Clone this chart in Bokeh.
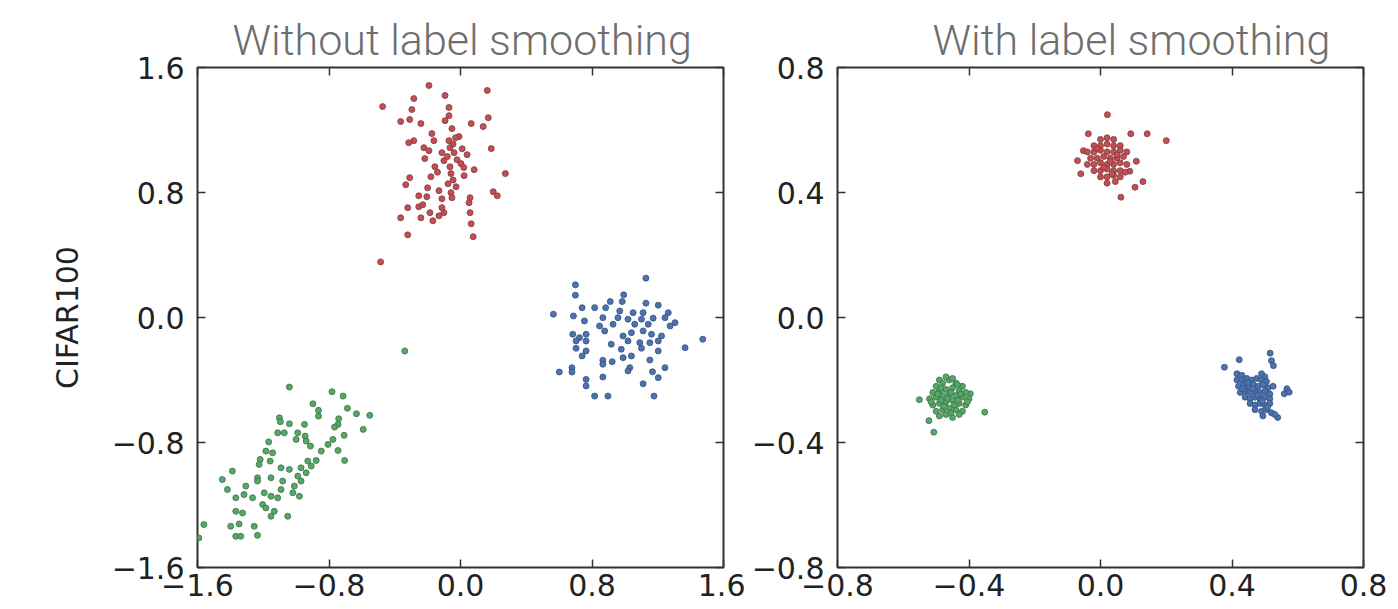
from bokeh.plotting import figure
from bokeh.layouts import row
from bokeh.models import LinearAxis, FixedTicker, Range1d
from bokeh.embed import file_html
from bokeh.resources import INLINE

# ---------------- data ----------------
titles = ["Without label smoothing", "With label smoothing"]
y_label = "CIFAR100"

left_ticks = [-1.6, -0.8, 0.0, 0.8, 1.6]
left_tick_labels = ["\u22121.6", "\u22120.8", "0.0", "0.8", "1.6"]
right_ticks = [-0.8, -0.4, 0.0, 0.4, 0.8]
right_tick_labels = ["\u22120.8", "\u22120.4", "0.0", "0.4", "0.8"]

# Without label smoothing
left_red = [
    (-0.192, 1.485), (0.163, 1.453), (-0.474, 1.350), (-0.284, 1.401), (-0.094, 1.421),
    (-0.296, 1.331), (-0.070, 1.344), (-0.364, 1.254), (-0.309, 1.267), (-0.241, 1.241),
    (-0.070, 1.292), (-0.094, 1.260), (0.065, 1.241), (0.138, 1.222), (0.169, 1.279),
    (-0.052, 1.209), (-0.174, 1.177), (-0.009, 1.158), (-0.315, 1.119), (-0.284, 1.132),
    (-0.162, 1.132), (-0.070, 1.132), (-0.064, 1.087), (-0.223, 1.087), (-0.192, 1.068),
    (-0.217, 1.017), (-0.113, 1.055), (-0.039, 1.055), (0.040, 1.042), (0.187, 1.081),
    (-0.101, 1.004), (-0.064, 0.965), (-0.021, 1.010), (0.003, 0.985), (-0.156, 0.965),
    (-0.058, 0.921), (0.022, 0.908), (0.083, 0.946), (0.273, 0.921), (-0.180, 0.901),
    (-0.309, 0.895), (-0.333, 0.850), (-0.076, 0.856), (-0.027, 0.837), (-0.131, 0.812),
    (-0.058, 0.799), (-0.254, 0.779), (-0.205, 0.773), (-0.113, 0.760), (-0.052, 0.767),
    (0.199, 0.805), (0.224, 0.779), (0.058, 0.767), (0.052, 0.735), (-0.321, 0.703),
    (-0.254, 0.709), (-0.229, 0.722), (-0.113, 0.703), (-0.186, 0.671), (-0.101, 0.671),
    (-0.131, 0.651), (-0.241, 0.638), (-0.168, 0.619), (-0.364, 0.638), (0.058, 0.671),
    (0.065, 0.600), (-0.321, 0.529), (0.077, 0.517), (-0.486, 0.356),
    (-0.045, 1.110), (-0.030, 1.150), (-0.080, 1.030), (0.010, 1.080), (-0.140, 0.930),
    (-0.045, 0.880), (0.020, 0.960), (-0.200, 0.830),
]
left_blue = [
    (1.128, 0.252), (0.699, 0.209), (0.699, 0.143), (0.565, 0.021), (0.740, 0.063),
    (0.816, 0.063), (0.911, 0.102), (0.993, 0.145), (0.984, 0.102), (1.128, 0.092),
    (1.203, 0.079), (0.687, 0.010), (0.754, -0.022), (0.883, 0.063), (0.969, 0.042),
    (1.050, 0.031), (1.111, 0.031), (1.264, 0.031), (0.866, -0.001), (0.958, -0.001),
    (1.019, -0.011), (1.101, -0.011), (1.172, -0.004), (1.244, -0.001), (1.305, -0.033),
    (0.846, -0.054), (0.928, -0.043), (1.060, -0.043), (1.142, -0.043), (1.275, -0.054),
    (0.683, -0.107), (0.724, -0.129), (0.764, -0.107), (0.877, -0.086), (0.989, -0.118),
    (1.040, -0.097), (1.111, -0.086), (1.162, -0.107), (1.223, -0.118), (0.703, -0.150),
    (0.764, -0.150), (0.917, -0.171), (1.019, -0.150), (1.091, -0.161), (1.152, -0.161),
    (1.203, -0.150), (1.474, -0.139), (1.366, -0.193), (0.703, -0.197), (0.764, -0.214),
    (0.978, -0.203), (1.101, -0.197), (1.203, -0.214), (0.740, -0.246), (0.989, -0.257),
    (1.040, -0.246), (0.866, -0.274), (0.923, -0.283), (1.152, -0.272), (0.601, -0.349),
    (0.678, -0.321), (0.678, -0.349), (1.030, -0.321), (0.866, -0.299), (1.019, -0.342),
    (1.168, -0.347), (1.244, -0.321), (0.866, -0.381), (0.764, -0.396), (0.764, -0.438),
    (1.111, -0.424), (1.203, -0.385), (0.816, -0.503), (0.897, -0.503), (1.177, -0.503),
]
left_green = [
    (-1.041, -0.445), (-0.782, -0.475), (-0.714, -0.503), (-0.898, -0.552), (-0.688, -0.581),
    (-0.864, -0.594), (-0.864, -0.631), (-0.633, -0.616), (-0.552, -0.626), (-0.741, -0.648),
    (-1.102, -0.642), (-1.096, -0.667), (-1.041, -0.680), (-0.949, -0.684), (-0.745, -0.684),
    (-0.766, -0.701), (-0.592, -0.716), (-1.112, -0.738), (-0.990, -0.738), (-1.072, -0.738),
    (-0.945, -0.759), (-0.708, -0.754), (-1.000, -0.780), (-0.939, -0.791), (-0.776, -0.780),
    (-1.167, -0.796), (-0.806, -0.812), (-0.913, -0.823), (-0.745, -0.851), (-1.184, -0.855),
    (-1.143, -0.866), (-0.847, -0.855), (-1.219, -0.908), (-1.158, -0.919), (-0.929, -0.919),
    (-0.878, -0.915), (-0.705, -0.915), (-1.225, -0.940), (-1.092, -0.962), (-1.041, -0.972),
    (-0.970, -0.962), (-0.908, -0.951), (-1.388, -0.983), (-1.449, -1.037), (-1.235, -1.026),
    (-1.153, -1.026), (-1.082, -1.047), (-0.990, -1.015), (-0.939, -0.994), (-1.418, -1.101),
    (-1.306, -1.079), (-1.235, -1.047), (-1.011, -1.079), (-0.970, -1.047), (-1.367, -1.154),
    (-1.317, -1.133), (-1.265, -1.154), (-1.194, -1.122), (-1.153, -1.144), (-1.092, -1.101),
    (-1.020, -1.122), (-0.980, -1.144), (-1.204, -1.197), (-1.112, -1.154), (-1.184, -1.219),
    (-1.133, -1.240), (-1.367, -1.240), (-1.326, -1.251), (-1.153, -1.272), (-1.051, -1.272),
    (-1.398, -1.336), (-1.347, -1.321), (-1.255, -1.336), (-1.367, -1.400), (-1.337, -1.400),
    (-1.235, -1.394), (-1.561, -1.325), (-1.592, -1.411), (-0.339, -0.214),
]

# With label smoothing
right_red = [
    (0.021, 0.649), (-0.037, 0.588), (0.092, 0.588), (0.142, 0.588), (0.200, 0.566),
    (0.109, 0.500), (0.089, 0.468), (0.129, 0.435), (0.105, 0.417), (0.062, 0.385),
    (-0.052, 0.534), (-0.070, 0.502), (-0.060, 0.460),
    (0.000, 0.570), (0.020, 0.575), (0.040, 0.570),
    (-0.020, 0.550), (0.000, 0.550), (0.020, 0.555), (0.040, 0.550), (0.060, 0.550),
    (-0.040, 0.530), (-0.020, 0.530), (0.000, 0.535), (0.020, 0.530), (0.040, 0.530),
    (0.060, 0.535), (0.080, 0.530),
    (-0.030, 0.510), (-0.010, 0.510), (0.010, 0.515), (0.030, 0.510), (0.050, 0.510),
    (0.070, 0.515),
    (-0.040, 0.490), (-0.020, 0.490), (0.000, 0.495), (0.020, 0.490), (0.040, 0.490),
    (0.060, 0.495), (0.080, 0.490),
    (-0.020, 0.470), (0.000, 0.470), (0.020, 0.475), (0.040, 0.470), (0.060, 0.470),
    (0.075, 0.465),
    (0.000, 0.450), (0.020, 0.450), (0.040, 0.455), (0.060, 0.450),
    (0.020, 0.430), (0.045, 0.435),
    (0.030, 0.500), (0.010, 0.480), (0.050, 0.520), (-0.010, 0.540), (0.035, 0.460),
]
right_blue = [
    (0.377, -0.159), (0.422, -0.135), (0.516, -0.114), (0.520, -0.138), (0.526, -0.154),
    (0.567, -0.228), (0.574, -0.239), (0.559, -0.244), (0.539, -0.320), (0.494, -0.315),
    (0.415, -0.180), (0.430, -0.185), (0.490, -0.180), (0.500, -0.190),
    (0.415, -0.200), (0.430, -0.200), (0.445, -0.195), (0.460, -0.200), (0.475, -0.195),
    (0.490, -0.200), (0.505, -0.205),
    (0.420, -0.220), (0.435, -0.215), (0.450, -0.220), (0.465, -0.215), (0.480, -0.220),
    (0.495, -0.215), (0.510, -0.225), (0.525, -0.220),
    (0.425, -0.240), (0.440, -0.235), (0.455, -0.240), (0.470, -0.235), (0.485, -0.240),
    (0.500, -0.235), (0.515, -0.245),
    (0.440, -0.255), (0.455, -0.260), (0.470, -0.255), (0.485, -0.260), (0.500, -0.255),
    (0.515, -0.260),
    (0.455, -0.275), (0.470, -0.280), (0.485, -0.275), (0.500, -0.280), (0.515, -0.275),
    (0.470, -0.295), (0.490, -0.300), (0.505, -0.295), (0.520, -0.305), (0.530, -0.310),
    (0.463, -0.228), (0.478, -0.248), (0.492, -0.268), (0.448, -0.208), (0.508, -0.288),
    (0.432, -0.228),
]
right_green = [
    (-0.551, -0.263), (-0.352, -0.303), (-0.507, -0.367), (-0.522, -0.330), (-0.396, -0.244),
    (-0.490, -0.200),
    (-0.500, -0.220), (-0.480, -0.210), (-0.460, -0.200), (-0.440, -0.210), (-0.420, -0.220),
    (-0.470, -0.190), (-0.450, -0.195),
    (-0.510, -0.240), (-0.490, -0.235), (-0.470, -0.230), (-0.450, -0.225), (-0.430, -0.235),
    (-0.410, -0.240),
    (-0.520, -0.260), (-0.500, -0.255), (-0.480, -0.250), (-0.460, -0.245), (-0.440, -0.250),
    (-0.420, -0.255), (-0.400, -0.260),
    (-0.510, -0.280), (-0.490, -0.275), (-0.470, -0.270), (-0.450, -0.265), (-0.430, -0.275),
    (-0.410, -0.280),
    (-0.500, -0.300), (-0.480, -0.295), (-0.460, -0.290), (-0.440, -0.295), (-0.420, -0.300),
    (-0.490, -0.315), (-0.470, -0.310), (-0.450, -0.320), (-0.430, -0.310),
    (-0.465, -0.260), (-0.455, -0.240), (-0.475, -0.285), (-0.435, -0.265), (-0.485, -0.265),
    (-0.445, -0.280), (-0.495, -0.245), (-0.425, -0.245), (-0.515, -0.270), (-0.405, -0.270),
    (-0.455, -0.305), (-0.485, -0.225), (-0.435, -0.215),
]

RED, BLUE, GREEN = "#C44E52", "#4C72B0", "#55A868"
RED_EDGE, BLUE_EDGE, GREEN_EDGE = "#7d3a3d", "#34507d", "#3b7049"

TICK_FONT = "DejaVu Sans"
FRAME_COLOR = "#333333"


def style_axis(ax, ticks, labels, standoff, show_labels=True):
    ax.ticker = FixedTicker(ticks=ticks)
    ax.major_label_overrides = {t: l for t, l in zip(ticks, labels)}
    ax.axis_line_color = None
    ax.major_tick_in = 8
    ax.major_tick_out = 0
    ax.major_tick_line_color = FRAME_COLOR
    ax.major_tick_line_width = 1.5
    ax.minor_tick_line_color = None
    ax.major_label_text_font = TICK_FONT
    ax.major_label_text_color = "#222222"
    if show_labels:
        ax.major_label_text_font_size = "30px"
        ax.major_label_standoff = standoff
    else:
        ax.major_label_text_font_size = "0px"
        ax.major_label_standoff = 0


def make_panel(title, lim, ticks, labels, series, min_left, min_right, title_offset, ylab=None):
    p = figure(frame_width=526, frame_height=500,
               x_range=Range1d(-lim, lim), y_range=Range1d(-lim, lim),
               output_backend="svg", toolbar_location=None,
               min_border_left=min_left, min_border_right=min_right,
               min_border_top=67, min_border_bottom=42,
               title=title)
    p.title.text_font = "Roboto Light"
    p.title.text_font_style = "normal"
    p.title.text_font_size = "43px"
    p.title.text_color = "#6e6e6e"
    p.title.align = "left"
    p.title.offset = title_offset
    p.title.standoff = 5
    p.grid.visible = False
    p.outline_line_color = FRAME_COLOR
    p.outline_line_width = 2
    p.background_fill_color = "white"
    p.border_fill_color = "white"

    style_axis(p.xaxis[0], ticks, labels, 6)
    style_axis(p.yaxis[0], ticks, labels, 13)
    top = LinearAxis()
    style_axis(top, ticks, labels, 0, show_labels=False)
    p.add_layout(top, "above")
    rgt = LinearAxis()
    style_axis(rgt, ticks, labels, 0, show_labels=False)
    p.add_layout(rgt, "right")

    if ylab:
        p.yaxis[0].axis_label = ylab
        p.yaxis[0].axis_label_text_font = TICK_FONT
        p.yaxis[0].axis_label_text_font_style = "normal"
        p.yaxis[0].axis_label_text_font_size = "30px"
        p.yaxis[0].axis_label_text_color = "#222222"
        p.yaxis[0].axis_label_standoff = 24

    for pts, fc, lc in series:
        p.scatter([a for a, b in pts], [b for a, b in pts], size=6,
                  fill_color=fc, line_color=lc, line_width=0.8)
    return p


p1 = make_panel(titles[0], 1.6, left_ticks, left_tick_labels,
                [(left_red, RED, RED_EDGE), (left_blue, BLUE, BLUE_EDGE), (left_green, GREEN, GREEN_EDGE)],
                197, 22, 35, ylab=y_label)
p2 = make_panel(titles[1], 0.8, right_ticks, right_tick_labels,
                [(right_red, RED, RED_EDGE), (right_blue, BLUE, BLUE_EDGE), (right_green, GREEN, GREEN_EDGE)],
                92, 35, 95)

layout = row(p1, p2)
open("out.html", "w").write(file_html(layout, INLINE))
